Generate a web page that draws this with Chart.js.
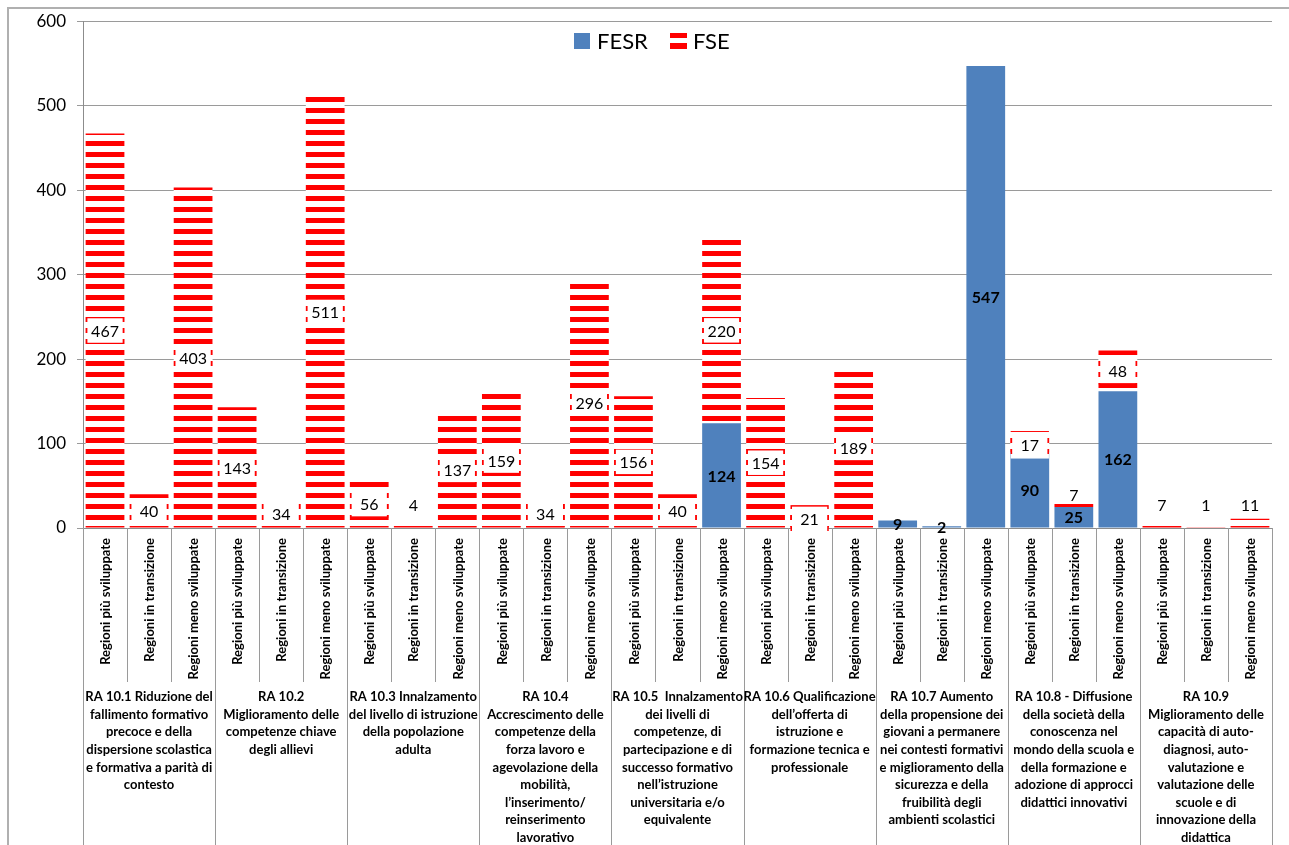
<!DOCTYPE html>
<html lang="it">
<head>
<meta charset="utf-8">
<title>FESR e FSE per risultato atteso e categoria di regioni</title>
<script src="https://cdn.jsdelivr.net/npm/chart.js@4.4.1/dist/chart.umd.min.js"></script>
<style>
  html, body { margin: 0; padding: 0; background: #fff; }
  #chart { display: block; }
</style>
</head>
<body>
<canvas id="chart" width="1289" height="845"></canvas>
<script>
// categorie di regioni, ripetute per ogni risultato atteso
const regioni = ['Regioni più sviluppate', 'Regioni in transizione', 'Regioni meno sviluppate'];

// risultati attesi (una voce per riga di testo)
const gruppi = [
  ['RA 10.1 Riduzione del', 'fallimento formativo', 'precoce e della', 'dispersione scolastica', 'e formativa a parità di', 'contesto'],
  ['RA 10.2', 'Miglioramento delle', 'competenze chiave', 'degli allievi'],
  ['RA 10.3 Innalzamento', 'del livello di istruzione', 'della popolazione', 'adulta'],
  ['RA 10.4', 'Accrescimento delle', 'competenze della', 'forza lavoro e', 'agevolazione della', 'mobilità,', 'l\u2019inserimento/', 'reinserimento', 'lavorativo'],
  ['RA 10.5  Innalzamento', 'dei livelli di', 'competenze, di', 'partecipazione e di', 'successo formativo', 'nell\u2019istruzione', 'universitaria e/o', 'equivalente'],
  ['RA 10.6 Qualificazione', 'dell\u2019offerta di', 'istruzione e', 'formazione tecnica e', 'professionale'],
  ['RA 10.7 Aumento', 'della propensione dei', 'giovani a permanere', 'nei contesti formativi', 'e miglioramento della', 'sicurezza e della', 'fruibilità degli', 'ambienti scolastici'],
  ['RA 10.8 - Diffusione', 'della società della', 'conoscenza nel', 'mondo della scuola e', 'della formazione e', 'adozione di approcci', 'didattici innovativi'],
  ['RA 10.9', 'Miglioramento delle', 'capacità di auto-', 'diagnosi, auto-', 'valutazione e', 'valutazione delle', 'scuole e di', 'innovazione della', 'didattica']
];

// valori per serie (3 categorie per ogni RA)
const fesr = [0, 0, 0,  0, 0, 0,  0, 0, 0,  0, 0, 0,  0, 0, 124,  0, 0, 0,  9, 2, 547,  90, 25, 162,  0, 0, 0];
const fse  = [467, 40, 403,  143, 34, 511,  56, 4, 137,  159, 34, 296,  156, 40, 220,  154, 21, 189,  0, 0, 0,  17, 7, 48,  7, 1, 11];

const yMax = 600;
const yStep = 100;

const labels = [];
gruppi.forEach(g => regioni.forEach(r => labels.push(r)));

// motivo a righe orizzontali per FSE
function stripePattern(ctx) {
    const c = document.createElement('canvas');
    c.width = 4;
    c.height = 11;
    const p = c.getContext('2d');
    p.fillStyle = '#ffffff';
    p.fillRect(0, 0, 4, 11);
    p.fillStyle = '#ff0000';
    [9, 10, 0, 1, 2].forEach(row => p.fillRect(0, row, 4, 1));
    return ctx.createPattern(c, 'repeat');
}

const canvas = document.getElementById('chart');
const ctx = canvas.getContext('2d');
const stripes = stripePattern(ctx);

const FONT = 'Lato, "Open Sans", sans-serif';

// cornice esterna del grafico
const framePlugin = {
    id: 'frame',
    beforeDraw(chart) {
        const c = chart.ctx;
        c.save();
        c.strokeStyle = '#b0b0b0';
        c.lineWidth = 2;
        c.beginPath();
        c.moveTo(8, chart.height);
        c.lineTo(8, 8);
        c.lineTo(chart.width, 8);
        c.stroke();
        c.restore();
    }
};

// etichette dei valori
const valuePlugin = {
    id: 'valueLabels',
    afterDatasetsDraw(chart) {
        const c = chart.ctx;
        const bottom = chart.chartArea.bottom;
        c.save();
        chart.data.datasets.forEach((ds, di) => {
            const meta = chart.getDatasetMeta(di);
            meta.data.forEach((bar, i) => {
                const v = ds.data[i];
                if (!v) return;
                const top = Math.min(bar.y, bar.base);
                const h = Math.abs(bar.base - bar.y);
                let cy = top + h / 2;
                if (di === 1) {
                    if (h < 12) {
                        // segmento troppo basso: etichetta sopra la barra, senza riquadro
                        cy = Math.min(top - 6, bottom - 23);
                    } else {
                        const w = bar.width;
                        c.fillStyle = '#ffffff';
                        c.fillRect(bar.x - w / 2 + 1, cy - 13, w - 2, 26);
                        c.strokeStyle = stripes;
                        c.lineWidth = 1.5;
                        c.strokeRect(bar.x - w / 2 + 1, cy - 13, w - 2, 26);
                    }
                    c.font = '16px ' + FONT;
                } else {
                    c.font = 'bold 16px ' + FONT;
                }
                c.fillStyle = '#000000';
                c.textAlign = 'center';
                c.textBaseline = 'middle';
                c.fillText(String(v), bar.x, cy + 1);
            });
        });
        c.restore();
    }
};

// asse delle categorie: separatori, etichette ruotate, risultati attesi
const categoryAxisPlugin = {
    id: 'categoryAxis',
    afterDraw(chart) {
        const c = chart.ctx;
        const x = chart.scales.x;
        const bottom = chart.chartArea.bottom;
        const step = x.getPixelForValue(1) - x.getPixelForValue(0);
        const left = x.getPixelForValue(0) - step / 2;
        c.save();
        c.strokeStyle = '#9a9a9a';
        c.lineWidth = 1;
        for (let k = 0; k <= labels.length; k++) {
            const px = Math.round(left + k * step) + 0.5;
            c.beginPath();
            c.moveTo(px, bottom);
            c.lineTo(px, k % 3 === 0 ? chart.height : 682);
            c.stroke();
        }
        c.fillStyle = '#000000';
        c.font = 'bold 13px ' + FONT;
        labels.forEach((lab, i) => {
            c.save();
            c.translate(x.getPixelForValue(i) + 1, bottom + 10);
            c.rotate(-Math.PI / 2);
            c.textAlign = 'right';
            c.textBaseline = 'middle';
            c.fillText(lab, 0, 0);
            c.restore();
        });
        c.textAlign = 'center';
        c.textBaseline = 'middle';
        gruppi.forEach((lines, g) => {
            const cx = left + (g * 3 + 1.5) * step;
            lines.forEach((t, j) => c.fillText(t, cx, 697 + j * 17.6));
        });
        c.restore();
    }
};

// legenda disegnata dentro l'area del grafico
const legendPlugin = {
    id: 'insideLegend',
    afterDraw(chart) {
        const c = chart.ctx;
        c.save();
        c.fillStyle = '#4f81bd';
        c.fillRect(574, 33, 16, 16);
        c.fillStyle = '#ff0000';
        c.fillRect(670, 33, 17, 5);
        c.fillRect(670, 43, 17, 6);
        c.fillStyle = '#000000';
        c.font = '22px ' + FONT;
        c.textAlign = 'left';
        c.textBaseline = 'middle';
        c.fillText(chart.data.datasets[0].label, 597, 42);
        c.fillText(chart.data.datasets[1].label, 693, 42);
        c.restore();
    }
};

new Chart(ctx, {
    type: 'bar',
    data: {
        labels: labels,
        datasets: [{
            label: 'FESR',
            data: fesr,
            backgroundColor: '#4f81bd',
            borderWidth: 0
        }, {
            label: 'FSE',
            data: fse,
            backgroundColor: stripes,
            borderWidth: 0
        }]
    },
    options: {
        responsive: false,
        animation: false,
        layout: { padding: { top: 20, right: 17, left: 0, bottom: 0 } },
        datasets: { bar: { categoryPercentage: 1, barPercentage: 0.88 } },
        plugins: {
            legend: { display: false },
            tooltip: { enabled: false }
        },
        scales: {
            x: {
                stacked: true,
                grid: { display: false },
                border: { display: true, color: '#8c8c8c' },
                ticks: { display: false },
                afterFit(scale) { scale.height = 317; }
            },
            y: {
                stacked: true,
                min: 0,
                max: yMax,
                ticks: {
                    stepSize: yStep,
                    color: '#000000',
                    padding: 11,
                    font: { family: FONT, size: 17 }
                },
                grid: { color: '#9a9a9a', tickLength: 6 },
                border: { color: '#8c8c8c' },
                afterFit(scale) { scale.width = 83; }
            }
        }
    },
    plugins: [framePlugin, valuePlugin, categoryAxisPlugin, legendPlugin]
});
</script>
</body>
</html>
